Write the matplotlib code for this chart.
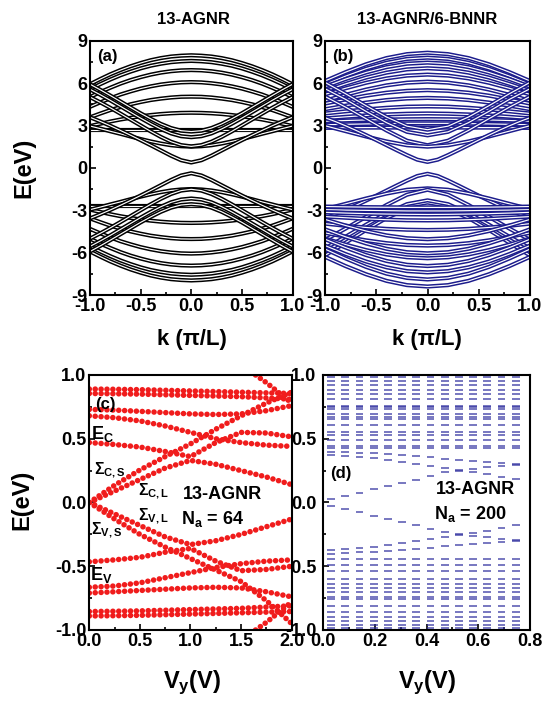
import numpy as np
import matplotlib
matplotlib.use('Agg')
import matplotlib.pyplot as plt

plt.rcParams['font.family'] = ['Liberation Sans', 'DejaVu Sans']
plt.rcParams['font.weight'] = 'bold'
plt.rcParams['axes.unicode_minus'] = False
plt.rcParams['mathtext.fontset'] = 'custom'
plt.rcParams['mathtext.rm'] = 'Liberation Sans'
plt.rcParams['mathtext.bf'] = 'Liberation Sans:bold'
plt.rcParams['mathtext.it'] = 'Liberation Sans:italic'

nan = np.nan

# k grids (units of pi/L), bands are symmetric in k
K11 = [0.0, 0.1, 0.2, 0.3, 0.4, 0.5, 0.6, 0.7, 0.8, 0.9, 1.0]
K6 = [0.0, 0.2, 0.4, 0.6, 0.8, 1.0]

# (a) 13-AGNR conduction bands, E(eV) at K11; valence = -E
A_COND = [
    [7.97, 7.94, 7.88, 7.77, 7.62, 7.42, 7.19, 6.92, 6.62, 6.28, 5.92],
    [7.57, 7.54, 7.48, 7.37, 7.23, 7.04, 6.81, 6.55, 6.25, 5.92, 5.56],
    [6.92, 6.90, 6.84, 6.74, 6.60, 6.42, 6.21, 5.96, 5.67, 5.36, 5.01],
    [6.07, 6.05, 5.99, 5.90, 5.77, 5.61, 5.41, 5.19, 4.92, 4.63, 4.32],
    [5.04, 5.03, 4.98, 4.90, 4.80, 4.66, 4.50, 4.30, 4.09, 3.84, 3.58],
    [3.90, 3.89, 3.86, 3.81, 3.74, 3.65, 3.54, 3.42, 3.28, 3.12, 2.96],
    [2.70, 2.70, 2.70, 2.70, 2.70, 2.70, 2.70, 2.70, 2.70, 2.70, 2.70],
    [1.50, 1.53, 1.60, 1.72, 1.87, 2.04, 2.22, 2.41, 2.59, 2.78, 2.96],
    [0.38, 0.54, 0.86, 1.23, 1.60, 1.96, 2.31, 2.65, 2.98, 3.29, 3.58],
    [1.52, 1.61, 1.85, 2.19, 2.58, 3.00, 3.42, 3.84, 4.25, 4.64, 5.01],
    [2.17, 2.24, 2.44, 2.75, 3.12, 3.52, 3.94, 4.36, 4.78, 5.18, 5.56],
    [2.57, 2.63, 2.82, 3.11, 3.47, 3.86, 4.28, 4.70, 5.12, 5.53, 5.92],
]

# (b) 13-AGNR/6-BNNR bands; 11-point rows use K11, 6-point rows use K6
B_COND = [
    [8.15, 8.05, 7.77, 7.33, 6.77, 6.15],
    [7.80, 7.71, 7.44, 7.02, 6.49, 5.90],
    [7.45, 7.37, 7.13, 6.75, 6.28, 5.75],
    [7.05, 6.97, 6.74, 6.39, 5.94, 5.45],
    [6.60, 6.53, 6.33, 6.02, 5.63, 5.20],
    [6.10, 6.03, 5.84, 5.54, 5.17, 4.75],
    [5.50, 5.45, 5.32, 5.11, 4.84, 4.55],
    [4.95, 4.91, 4.80, 4.62, 4.40, 4.15],
    [4.35, 4.33, 4.25, 4.14, 4.00, 3.85],
    [3.85, 3.83, 3.78, 3.71, 3.61, 3.50],
    [3.45, 3.44, 3.42, 3.39, 3.35, 3.30],
    [3.15, 3.15, 3.13, 3.11, 3.08, 3.05],
    [2.85, 2.85, 2.85, 2.85, 2.84, 2.83],
    [2.70, 2.95, 3.60, 4.40, 5.25, 6.05],
    [2.30, 2.55, 3.20, 4.00, 4.85, 5.60],
    [1.60, 1.92, 2.65, 3.48, 4.30, 5.05],
    [1.50, 1.60, 1.87, 2.22, 2.60, 2.98],
    [0.42, 0.58, 0.90, 1.25, 1.61, 1.97, 2.32, 2.66, 2.98, 3.28, 3.55],
]
B_VAL = [
    [-0.42, -0.58, -0.90, -1.25, -1.61, -1.97, -2.32, -2.66, -2.98, -3.28, -3.58],
    [-1.45, -1.55, -1.82, -2.17, -2.55, -2.92],
    [-1.55, -1.90, -2.63, -3.47, -4.30, -5.10],
    [-2.30, -2.57, -3.22, -4.03, -4.88, -5.70],
    [-2.65, -2.90, -3.55, -4.40, -5.30, -6.20],
    [-2.80, -2.80, -2.79, -2.78, -2.76, -2.74],
    [-3.05, -3.05, -3.03, -3.01, -2.99, -2.96],
    [-3.30, -3.29, -3.27, -3.24, -3.20, -3.15],
    [-3.72, -3.71, -3.67, -3.61, -3.53, -3.45],
    [-4.40, -4.38, -4.32, -4.22, -4.10, -3.95],
    [-5.05, -4.98, -4.78, -4.47, -4.08, -3.65],
    [-5.50, -5.46, -5.33, -5.13, -4.88, -4.60],
    [-6.05, -5.97, -5.73, -5.35, -4.88, -4.35],
    [-6.40, -6.33, -6.13, -5.82, -5.43, -5.00],
    [-6.95, -6.86, -6.59, -6.17, -5.64, -5.05],
    [-7.40, -7.31, -7.04, -6.63, -6.10, -5.50],
    [-7.90, -7.79, -7.49, -7.01, -6.41, -5.75],
    [-8.40, -8.30, -8.00, -7.53, -6.95, -6.30],
]

# (c) N_a = 64 levels vs V_y
VC = [0.0, 0.25, 0.5, 0.75, 1.0, 1.25, 1.5, 1.75, 2.0]
C_TOP1 = [0.89, 0.888, 0.885, 0.88, 0.875, 0.87, 0.865, 0.86, 0.855]
C_TOP2 = [0.855, 0.853, 0.85, 0.845, 0.84, 0.835, 0.83, 0.82, 0.81]
C_MID1 = [0.73, 0.725, 0.715, 0.705, 0.695, 0.69, 0.695, 0.72, 0.76]
C_MID2 = [0.68, 0.665, 0.64, 0.60, 0.55, 0.50, 0.47, 0.45, 0.44]
C_EC = [0.47, 0.455, 0.435, 0.40, 0.36, 0.47, 0.55, 0.545, 0.515]
C_SS = [0.0, 0.09, 0.18, 0.27, 0.33, 0.30, 0.25, 0.20, 0.14]
C_SL = [0.0, 0.135, 0.255, 0.36, 0.46, 0.575, 0.68, 0.78, 0.865]
C_STEEP = [nan, nan, nan, nan, nan, nan, 1.08, 0.94, 0.78]
V_TOP1 = [-0.89, -0.888, -0.885, -0.88, -0.875, -0.87, -0.865, -0.86, -0.855]
V_TOP2 = [-0.855, -0.853, -0.85, -0.845, -0.84, -0.835, -0.83, -0.82, -0.81]
V_MID1 = [-0.71, -0.70, -0.69, -0.68, -0.67, -0.665, -0.67, -0.70, -0.74]
V_MID2 = [-0.665, -0.655, -0.63, -0.59, -0.55, -0.51, -0.48, -0.46, -0.45]
V_EV = [-0.465, -0.45, -0.43, -0.39, -0.36, -0.46, -0.535, -0.525, -0.50]
V_SS = [0.0, -0.09, -0.18, -0.27, -0.33, -0.30, -0.25, -0.19, -0.13]
V_SL = [0.0, -0.13, -0.25, -0.35, -0.44, -0.53, -0.62, -0.77, -0.95]
V_STEEP = [nan, nan, nan, nan, nan, nan, -1.08, -0.94, -0.78]

# (d) N_a = 200 levels, one column per V_y value
VD = [0.03, 0.085, 0.14, 0.195, 0.25, 0.305, 0.36, 0.415, 0.47, 0.525, 0.58, 0.635, 0.69, 0.745]
D_STATIC = [0.425, 0.443, 0.49, 0.53, 0.556, 0.608, 0.652, 0.673, 0.691, 0.731, 0.747,
            0.757, 0.809, 0.851, 0.882, 0.922, 0.953, 0.987,
            -0.44, -0.49, -0.54, -0.60, -0.64, -0.67, -0.70, -0.74, -0.76, -0.81,
            -0.86, -0.90, -0.93, -0.96, -0.985]
D_GAP_C = [0.027, 0.054, 0.077, 0.103, 0.132, 0.156, 0.18, 0.21, 0.237, 0.25, 0.262, 0.275, 0.29, 0.30]
D_GAP_V = [-0.025, -0.051, -0.077, -0.103, -0.13, -0.15, -0.176, -0.208, -0.234, -0.25, -0.26, -0.27, -0.285, -0.30]
D_EDGE_C1 = [0.372, 0.366, 0.357, 0.348, 0.335, 0.32, 0.305, 0.29, 0.272, 0.255, 0.238, 0.22, 0.20, 0.185]
D_EDGE_C2 = [0.399, 0.396, 0.392, 0.387, 0.38, 0.372, 0.363, 0.354, 0.344, 0.334, 0.324, 0.315, 0.306, 0.298]
D_EDGE_V1 = [-0.373, -0.367, -0.358, -0.348, -0.335, -0.32, -0.305, -0.29, -0.272, -0.255, -0.238, -0.22, -0.20, -0.18]
D_EDGE_V2 = [-0.40, -0.397, -0.392, -0.387, -0.38, -0.372, -0.363, -0.354, -0.344, -0.334, -0.324, -0.315, -0.306, -0.298]


def mirror(e):
    k = np.array(K11 if len(e) == len(K11) else K6)
    e = np.asarray(e, dtype=float)
    return np.concatenate([-k[::-1], k[1:]]), np.concatenate([e[::-1], e[1:]])


def tube(ax, e, color):
    kk, ee = mirror(e)
    ax.plot(kk, ee, color=color, lw=3.0, solid_joinstyle='round')
    ax.plot(kk, ee, color='white', lw=0.85, solid_joinstyle='round')


def style(ax):
    for s in ax.spines.values():
        s.set_linewidth(1.5)
    ax.tick_params(which='both', direction='in', width=1.2, labelsize=13, pad=2)
    ax.tick_params(which='major', length=4)
    ax.tick_params(which='minor', length=2)
    for lab in ax.get_xticklabels() + ax.get_yticklabels():
        lab.set_fontweight('bold')


fig = plt.figure(figsize=(5.44, 7.05), dpi=100)
W, H = 544.0, 705.0


def box(x0, y0, x1, y1):
    return [x0 / W, 1 - y1 / H, (x1 - x0) / W, (y1 - y0) / H]


ax_a = fig.add_axes(box(90, 40.7, 292.5, 295))
ax_b = fig.add_axes(box(325, 40.7, 530, 295))
ax_d = fig.add_axes(box(323.3, 375, 530, 630))
ax_c = fig.add_axes(box(89.3, 375, 291.7, 630))
ax_c.set_zorder(3)
ax_c.set_facecolor('white')

# (a)
for e in A_COND:
    tube(ax_a, e, 'black')
    tube(ax_a, [-v for v in e], 'black')
# (b)
navy = '#1c1c8c'
for e in B_COND + B_VAL:
    tube(ax_b, e, navy)

for ax, lab in [(ax_a, '(a)'), (ax_b, '(b)')]:
    ax.set_xlim(-1, 1)
    ax.set_ylim(-9, 9)
    ax.set_xticks([-1, -0.5, 0, 0.5, 1])
    ax.set_xticks([-0.75, -0.25, 0.25, 0.75], minor=True)
    ax.set_xticklabels(['-1.0', '-0.5', '0.0', '0.5', '1.0'])
    ax.set_yticks([-9, -6, -3, 0, 3, 6, 9])
    ax.set_yticks([-7.5, -4.5, -1.5, 1.5, 4.5, 7.5], minor=True)
    ax.text(-0.93, 7.9, lab, fontsize=12, fontweight='bold', va='center')
    style(ax)

# (c)
red = '#f01c1c'
for e in [C_TOP1, C_TOP2, C_MID1, C_MID2, C_EC, C_SS, C_SL, C_STEEP,
          V_TOP1, V_TOP2, V_MID1, V_MID2, V_EV, V_SS, V_SL, V_STEEP]:
    ax_c.plot(VC, e, color=red, lw=4.0, linestyle=(0, (0.01, 1.05)),
              dash_capstyle='round', solid_capstyle='round')
ax_c.set_xlim(0, 2)
ax_c.set_ylim(-1, 1)
ax_c.set_xticks([0, 0.5, 1.0, 1.5, 2.0])
ax_c.set_xticks([0.25, 0.75, 1.25, 1.75], minor=True)
ax_c.set_xticklabels(['0.0', '0.5', '1.0', '1.5', '2.0'])
ax_c.set_yticks([-1, -0.5, 0, 0.5, 1])
ax_c.set_yticks([-0.75, -0.25, 0.25, 0.75], minor=True)
ax_c.set_yticklabels(['-1.0', '-0.5', '0.0', '0.5', '1.0'])
style(ax_c)
ax_c.text(0.06, 0.77, '(c)', fontsize=12, fontweight='bold', va='center')
ax_c.text(0.02, 0.54, r'E$_\mathbf{C}$', fontsize=13, fontweight='bold', va='center')
ax_c.text(0.01, -0.57, r'E$_\mathbf{V}$', fontsize=13, fontweight='bold', va='center')
ax_c.text(0.05, 0.25, r'$\Sigma_\mathrm{C,S}$', fontsize=11.5, va='center')
ax_c.text(0.02, -0.22, r'$\Sigma_\mathrm{V,S}$', fontsize=11.5, va='center')
ax_c.text(0.48, 0.09, r'$\Sigma_\mathrm{C,L}$', fontsize=11.5, va='center')
ax_c.text(0.48, -0.11, r'$\Sigma_\mathrm{V,L}$', fontsize=11.5, va='center')
ax_c.text(1.32, 0.06, '13-AGNR', fontsize=13, fontweight='bold', ha='center', va='center')
ax_c.text(1.22, -0.13, r'N$_\mathbf{a}$ = 64', fontsize=13, fontweight='bold', ha='center', va='center')

# (d)
dash = 0.015
dcol = '#2e2e9e'
for lev in D_STATIC:
    ax_d.hlines([lev] * len(VD), [v - dash for v in VD], [v + dash for v in VD],
                color=dcol, lw=1.3, alpha=0.7)
for row in [D_GAP_C, D_GAP_V, D_EDGE_C1, D_EDGE_C2, D_EDGE_V1, D_EDGE_V2]:
    ax_d.hlines(row, [v - dash for v in VD], [v + dash for v in VD],
                color=dcol, lw=1.3, alpha=0.7)
ax_d.set_xlim(0, 0.8)
ax_d.set_ylim(-1, 1)
ax_d.set_xticks([0, 0.2, 0.4, 0.6, 0.8])
ax_d.set_xticks([0.1, 0.3, 0.5, 0.7], minor=True)
ax_d.set_xticklabels(['0.0', '0.2', '0.4', '0.6', '0.8'])
ax_d.set_yticks([-1, -0.5, 0, 0.5, 1])
ax_d.set_yticks([-0.75, -0.25, 0.25, 0.75], minor=True)
ax_d.set_yticklabels(['-1.0', '-0.5', '0.0', '0.5', '1.0'])
style(ax_d)
# the minus signs of these labels slip under panel (c), as in the original
ax_d.tick_params(axis='y', pad=5)
ax_d.text(0.025, 0.23, '(d)', fontsize=12, fontweight='bold', va='center')
ax_d.text(0.59, 0.10, '13-AGNR', fontsize=13, fontweight='bold', ha='center', va='center')
ax_d.text(0.57, -0.09, r'N$_\mathbf{a}$ = 200', fontsize=13, fontweight='bold', ha='center', va='center')

# titles and axis labels
fig.text(193 / W, 1 - 20 / H, '13-AGNR', fontsize=12, fontweight='bold', ha='center', va='center')
fig.text(427 / W, 1 - 20 / H, '13-AGNR/6-BNNR', fontsize=12, fontweight='bold', ha='center', va='center')
fig.text(24 / W, 1 - 168 / H, 'E(eV)', fontsize=17, fontweight='bold', rotation=90, ha='center', va='center')
fig.text(22 / W, 1 - 500 / H, 'E(eV)', fontsize=17, fontweight='bold', rotation=90, ha='center', va='center')
fig.text(192 / W, 1 - 340 / H, 'k (π/L)', fontsize=16, fontweight='bold', ha='center', va='center')
fig.text(427 / W, 1 - 340 / H, 'k (π/L)', fontsize=16, fontweight='bold', ha='center', va='center')
fig.text(192 / W, 1 - 683 / H, r'V$_\mathbf{y}$(V)', fontsize=17, fontweight='bold', ha='center', va='center')
fig.text(427 / W, 1 - 683 / H, r'V$_\mathbf{y}$(V)', fontsize=17, fontweight='bold', ha='center', va='center')

fig.savefig('out.png', dpi=100)
